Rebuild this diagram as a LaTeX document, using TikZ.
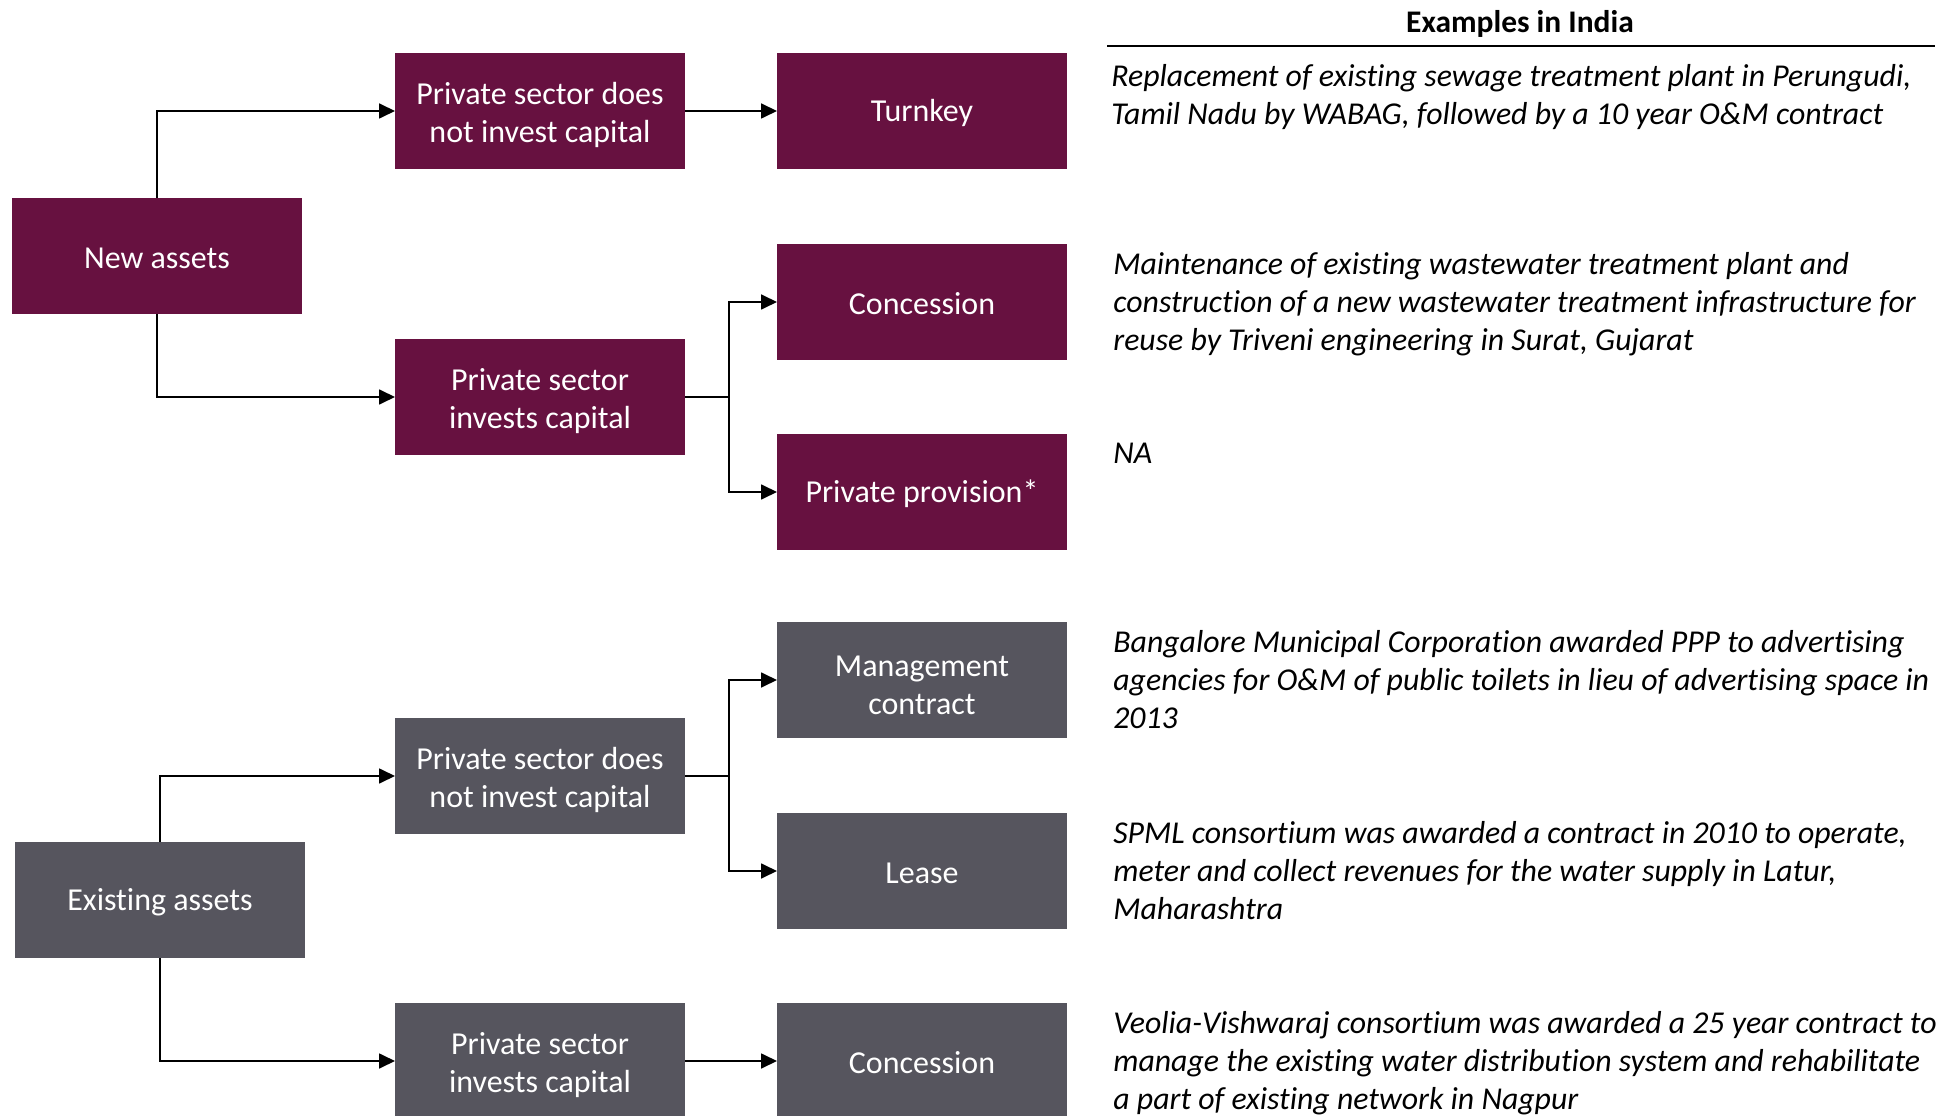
\documentclass[tikz,border=0pt]{standalone}
\usepackage{fontspec}
\setmainfont{Carlito}[Ligatures=CommonOff]
\usetikzlibrary{arrows.meta,positioning}
\definecolor{assetplum}{RGB}{103,17,64}
\definecolor{assetslate}{RGB}{86,85,94}
\newcommand\boxstrut{\rule{0pt}{0.61cm}}

\begin{document}
\begin{tikzpicture}[node distance=1.84cm,
  box/.style={text=white,minimum width=5.8cm,minimum height=2.32cm,inner sep=0pt,outer sep=0pt,align=center,font=\fontsize{18.2}{21.6}\selectfont,execute at begin node={\rule{0pt}{0.52cm}}},
  newbox/.style={box,fill=assetplum},
  oldbox/.style={box,fill=assetslate},
  example/.style={align=left,inner sep=0pt,font=\fontsize{18.1}{21.4}\selectfont\itshape},
  link/.style={-{Triangle[length=0.32cm,width=0.3cm]},line width=0.035cm}]
\useasboundingbox (0,0) rectangle (39.2,22.3);
% new assets branch
\node[newbox] (newa) at (3.14,17.18) {New assets};
\node[newbox] (n1) at (10.80,20.08) {\boxstrut Private sector does\\not invest capital};
\node[newbox,right=of n1] (turnkey) {Turnkey};
\node[newbox] (i1) at (10.80,14.36) {\boxstrut Private sector\\invests capital};
\node[newbox] (conc1) at (18.44,16.26) {Concession};
\node[newbox] (prov) at (18.44,12.46) {Private provision*};
\coordinate[right=0.88cm of i1.east] (fork1);
\draw[link] (newa.north) |- (n1.west);
\draw[link] (newa.south) |- (i1.west);
\draw[link] (n1) -- (turnkey);
\draw[line width=0.035cm] (i1.east) -- (fork1);
\draw[link] (fork1) |- (conc1.west);
\draw[link] (fork1) |- (prov.west);
% existing assets branch
\node[oldbox] (exist) at (3.20,4.30) {Existing assets};
\node[oldbox] (n2) at (10.80,6.78) {\boxstrut Private sector does\\not invest capital};
\node[oldbox] (mgmt) at (18.44,8.70) {\boxstrut Management\\contract};
\node[oldbox] (lease) at (18.44,4.88) {Lease};
\node[oldbox] (i2) at (10.80,1.08) {\boxstrut Private sector\\invests capital};
\node[oldbox,right=of i2] (conc2) {Concession};
\coordinate[right=0.88cm of n2.east] (fork2);
\draw[link] (exist.north) |- (n2.west);
\draw[link] (exist.south) |- (i2.west);
\draw[line width=0.035cm] (n2.east) -- (fork2);
\draw[link] (fork2) |- (mgmt.west);
\draw[link] (fork2) |- (lease.west);
\draw[link] (i2) -- (conc2);
% examples column
\node[font=\fontsize{17.9}{21.3}\selectfont\bfseries] (head) at (30.4,21.83) {Examples in India};
\draw[line width=0.04cm] (22.14,21.38) -- (38.7,21.38);
\node[example,below right=0.23cm and 0.88cm of turnkey.north east] (ex1) {Replacement of existing sewage treatment plant in Perungudi,\\Tamil Nadu by WABAG, followed by a 10 year O\&M contract};
\node[example,below right=0.17cm and 0.92cm of conc1.north east] (ex2) {Maintenance of existing wastewater treatment plant and\\construction of a new wastewater treatment infrastructure for\\reuse by Triveni engineering in Surat, Gujarat};
\node[example,below right=0.17cm and 0.92cm of prov.north east] (ex3) {NA};
\node[example,below right=0.17cm and 0.92cm of mgmt.north east] (ex4) {Bangalore Municipal Corporation awarded PPP to advertising\\agencies for O\&M of public toilets in lieu of advertising space in\\2013};
\node[example,below right=0.17cm and 0.92cm of lease.north east] (ex5) {SPML consortium was awarded a contract in 2010 to operate,\\meter and collect revenues for the water supply in Latur,\\Maharashtra};
\node[example,below right=0.17cm and 0.92cm of conc2.north east] (ex6) {Veolia-Vishwaraj consortium was awarded a 25 year contract to\\manage the existing water distribution system and rehabilitate\\a part of existing network in Nagpur};
\end{tikzpicture}
\end{document}
